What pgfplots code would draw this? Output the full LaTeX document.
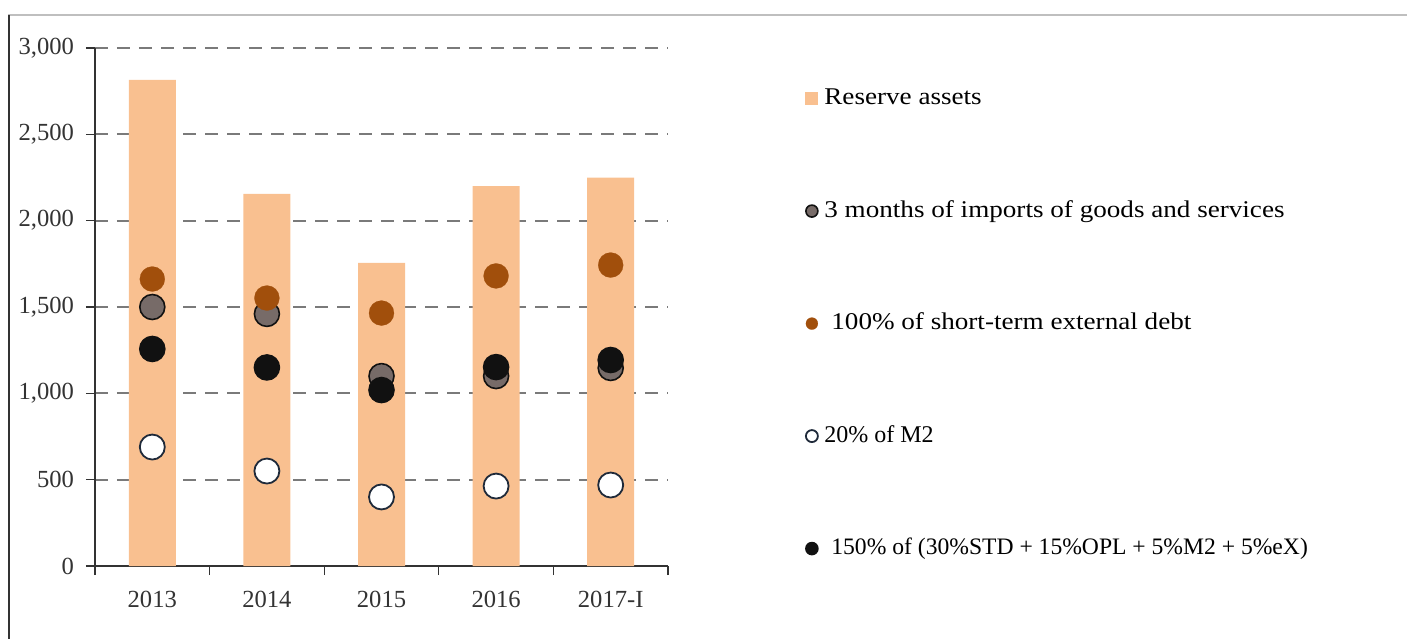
\documentclass[border=0pt]{standalone}
\usepackage{pgfplots}
\pgfplotsset{compat=1.18}
\usepackage{fontspec}
\setmainfont{Liberation Serif}
\newfontfamily\wideserif{Liberation Serif}[FakeStretch=1.13]
\definecolor{barc}{HTML}{F9C090}
\definecolor{orc}{HTML}{A14F0C}
\definecolor{grc}{HTML}{776B68}
\definecolor{blc}{HTML}{111111}
\definecolor{navy}{HTML}{1F2A3A}
\definecolor{gridc}{HTML}{7A7A7A}
\pgfplotsset{
  circlegend/.style={legend image code/.code={\draw[##1, mark size=3pt] plot coordinates {(3.25pt,0)};}},
  sqlegend/.style={legend image code/.code={\fill[barc] (0pt,-3.25pt) rectangle (6.5pt,3.25pt);}},
}
\begin{document}
\begin{tikzpicture}
\useasboundingbox (0,0) rectangle (703.5pt,319.5pt);
\draw[line width=0.6pt, color=black!25] (4pt,312pt) -- (703.5pt,312pt);
\draw[line width=0.8pt, color=black!80] (4.5pt,312pt) -- (4.5pt,0pt);
\begin{axis}[
  at={(47.5pt,36.5pt)}, anchor=south west,
  scale only axis, width=286.5pt, height=259pt,
  xmin=-0.5, xmax=4.5, ymin=0, ymax=3000,
  axis x line*=bottom, axis y line*=left,
  axis line style={-, line width=0.6pt, color=black!80},
  xtick={-0.5,0.5,1.5,2.5,3.5,4.5}, xticklabels={},
  extra x ticks={0,1,2,3,4},
  extra x tick labels={2013,2014,2015,2016,2017-I},
  extra x tick style={major tick length=0pt, grid=none},
  ytick={0,500,1000,1500,2000,2500,3000},
  yticklabels={0,500,{1,000},{1,500},{2,000},{2,500},{3,000}},
  tick align=outside, major tick length=4.5pt,
  tick style={line width=0.6pt, color=black!80},
  ymajorgrids, grid style={dash pattern=on 6.5pt off 4.5pt, line width=1pt, color=gridc},
  /pgf/number format/assume math mode=true,
  ticklabel style={font=\fontsize{12.3}{14}\selectfont, color=black!80},
  yticklabel style={xshift=-2.5pt},
  xticklabel style={yshift=-9pt},
  legend style={at={(1.2286,0.468)}, anchor=west, draw=none, fill=none,
    font=\fontsize{12}{14}\selectfont, row sep=45.25pt,
    nodes={inner sep=0pt, text height=8.5pt, text depth=2.5pt},
    /tikz/every odd column/.append style={column sep=3pt}},
  legend cell align=left,
]
\addplot[ybar, bar width=23.5pt, fill=barc, draw=none, sqlegend]
  coordinates {(0,2815) (1,2155) (2,1755) (3,2200) (4,2250)};
\addlegendentry{\wideserif Reserve assets}
\addplot[only marks, mark=*, mark size=6.25pt, mark options={fill=grc, draw=blc, line width=0.8pt}, circlegend]
  coordinates {(0,1500) (1,1460) (2,1100) (3,1100) (4,1147)};
\addlegendentry{\wideserif 3 months of imports of goods and services}
\addplot[only marks, mark=*, mark size=6.25pt, mark options={fill=orc, draw=orc, line width=0.1pt}, circlegend]
  coordinates {(0,1662) (1,1552) (2,1465) (3,1680) (4,1743)};
\addlegendentry{\hspace{3.5pt}\wideserif 100\% of short-term external debt}
\addplot[only marks, mark=*, mark size=6.25pt, mark options={fill=white, draw=navy, line width=0.9pt}, circlegend]
  coordinates {(0,689) (1,550) (2,400) (3,463) (4,469)};
\addlegendentry{20\% of M2}
\addplot[only marks, mark=*, mark size=6.25pt, mark options={fill=blc, draw=blc, line width=0.8pt}, circlegend]
  coordinates {(0,1257) (1,1150) (2,1019) (3,1152) (4,1193)};
\addlegendentry{\hspace{3.5pt}\fontsize{11.8}{14}\selectfont 150\% of (30\%STD + 15\%OPL + 5\%M2 + 5\%eX)}
\end{axis}
\end{tikzpicture}
\end{document}
